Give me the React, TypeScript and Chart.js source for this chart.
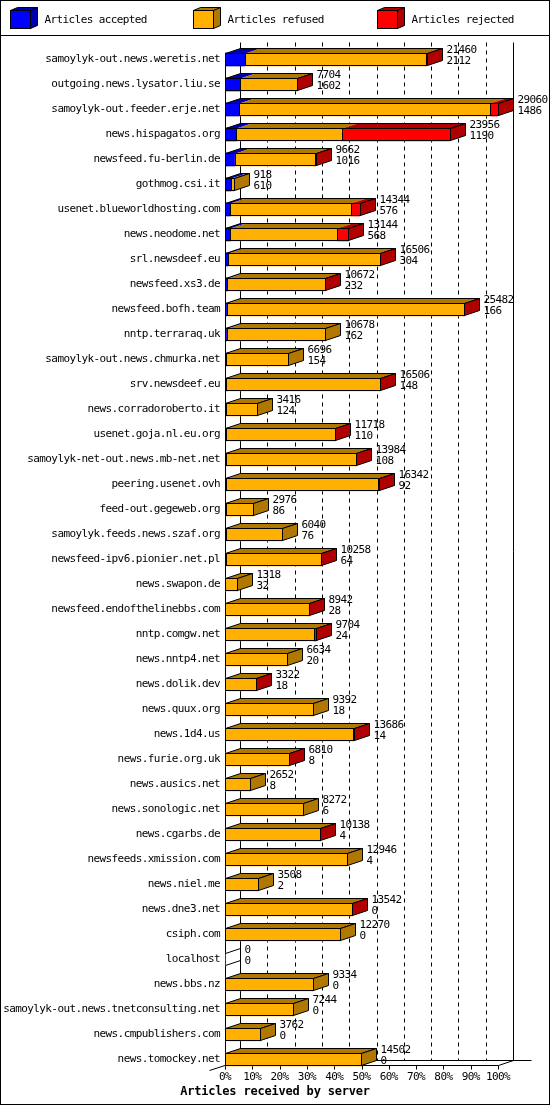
import { useEffect, useRef } from 'react'
import { Chart, registerables } from 'chart.js'

Chart.register(...registerables)

const servers = [
  'samoylyk-out.news.weretis.net', 'outgoing.news.lysator.liu.se', 'samoylyk-out.feeder.erje.net',
  'news.hispagatos.org', 'newsfeed.fu-berlin.de', 'gothmog.csi.it', 'usenet.blueworldhosting.com',
  'news.neodome.net', 'srl.newsdeef.eu', 'newsfeed.xs3.de', 'newsfeed.bofh.team', 'nntp.terraraq.uk',
  'samoylyk-out.news.chmurka.net', 'srv.newsdeef.eu', 'news.corradoroberto.it', 'usenet.goja.nl.eu.org',
  'samoylyk-net-out.news.mb-net.net', 'peering.usenet.ovh', 'feed-out.gegeweb.org',
  'samoylyk.feeds.news.szaf.org', 'newsfeed-ipv6.pionier.net.pl', 'news.swapon.de',
  'newsfeed.endofthelinebbs.com', 'nntp.comgw.net', 'news.nntp4.net', 'news.dolik.dev', 'news.quux.org',
  'news.1d4.us', 'news.furie.org.uk', 'news.ausics.net', 'news.sonologic.net', 'news.cgarbs.de',
  'newsfeeds.xmission.com', 'news.niel.me', 'news.dne3.net', 'csiph.com', 'localhost', 'news.bbs.nz',
  'samoylyk-out.news.tnetconsulting.net', 'news.cmpublishers.com', 'news.tomockey.net',
]

// top number printed next to each bar
const offered = [
  21460, 7704, 29060, 23956, 9662, 918, 14344, 13144, 16506, 10672, 25482, 10678, 6696, 16506, 3416,
  11718, 13984, 16342, 2976, 6040, 10258, 1318, 8942, 9704, 6634, 3322, 9392, 13686, 6810, 2652, 8272,
  10138, 12946, 3508, 13542, 12270, 0, 9334, 7244, 3762, 14502,
]

// bottom number printed next to each bar
const accepted = [
  2112, 1602, 1486, 1190, 1016, 610, 576, 568, 304, 232, 166, 162, 154, 148, 124, 110, 108, 92, 86, 76,
  64, 32, 28, 24, 20, 18, 18, 14, 8, 8, 6, 4, 4, 2, 0, 0, 0, 0, 0, 0, 0,
]

const refused = [
  19238, 6022, 26724, 11236, 8556, 308, 12818, 11406, 16162, 10400, 25256, 10516, 6542, 16318, 3292,
  11568, 13816, 16200, 2890, 5964, 10154, 1286, 8874, 9500, 6614, 3274, 9374, 13612, 6772, 2644, 8266,
  10104, 12942, 3506, 13512, 12270, 0, 9334, 7244, 3762, 14502,
]

const rejected = [
  110, 80, 850, 11530, 90, 0, 950, 1170, 40, 40, 60, 0, 0, 40, 0, 40, 60, 50, 0, 0, 40, 0, 40, 180, 0,
  30, 0, 60, 30, 0, 0, 30, 0, 0, 30, 0, 0, 0, 0, 0, 0,
]

const percentTicks = [0, 10, 20, 30, 40, 50, 60, 70, 80, 90, 100]
const legendLabels = ['Articles accepted', 'Articles refused', 'Articles rejected']
const axisTitle = 'Articles received by server'

const FACE = ['#0000ff', '#ffb000', '#ff0000']
const SHADE = ['#0000b0', '#b07800', '#b00000']
const DX = 15
const DY = 5
const MONO = '"DejaVu Sans Mono", "Liberation Mono", monospace'

export default function App() {
  const canvasRef = useRef<HTMLCanvasElement>(null)
  const chartRef = useRef<Chart | null>(null)

  useEffect(() => {
    document.body.style.margin = '0'
    if (!canvasRef.current) return
    chartRef.current?.destroy()

    const maxTotal = Math.max(...offered)
    const series = [accepted, refused, rejected]

    chartRef.current = new Chart(canvasRef.current, {
      type: 'bar',
      data: {
        labels: servers,
        datasets: series.map((data, i) => ({
          label: legendLabels[i],
          data,
          backgroundColor: FACE[i],
          borderWidth: 0,
          barThickness: 13,
          stack: 'all',
        })),
      },
      options: {
        indexAxis: 'y',
        responsive: false,
        animation: false,
        devicePixelRatio: 1,
        layout: { padding: { top: 47, right: 52, left: 0, bottom: 0 } },
        plugins: { legend: { display: false }, tooltip: { enabled: false } },
        scales: {
          x: {
            stacked: true,
            min: 0,
            max: maxTotal,
            afterBuildTicks(scale) {
              scale.ticks = percentTicks.map(p => ({ value: (p / 100) * maxTotal }))
            },
            afterFit(scale) { scale.height = 33 },
            ticks: {
              autoSkip: false,
              maxRotation: 0,
              padding: -1,
              color: '#000',
              font: { family: MONO, size: 11 },
              callback: (v) => `${Math.round((Number(v) / maxTotal) * 100)}%`,
            },
            grid: { display: false, drawTicks: false },
            border: { display: false },
          },
          y: {
            stacked: true,
            afterFit(scale) { scale.width = 225 },
            ticks: { padding: 5, color: '#000', autoSkip: false, font: { family: MONO, size: 11 } },
            grid: { display: false, drawTicks: false },
            border: { display: false },
          },
        },
      },
      plugins: [
        {
          id: 'narrowText',
          beforeDraw(chart) {
            // squeeze the mono font to the 6px cell of the original bitmap font
            ;(chart.ctx as any).letterSpacing = '-0.6px'
          },
        },
        {
          id: 'threeD',
          beforeDatasetsDraw(chart) {
            const { ctx, chartArea, scales } = chart
            const x = scales.x
            const front = (p: number) => Math.round(x.getPixelForValue((p / 100) * maxTotal)) + 0.5
            const floorFront = Math.round(chartArea.bottom - 7) + 0.5
            const floorBack = floorFront - DY
            const top = Math.round(chartArea.top - 5) + 0.5
            ctx.save()
            ctx.strokeStyle = '#000'
            ctx.lineWidth = 1
            // back wall grid
            percentTicks.forEach(p => {
              const bx = front(p) + DX
              ctx.setLineDash(p === 0 || p === 100 ? [] : [4, 4])
              ctx.beginPath()
              ctx.moveTo(bx, top)
              ctx.lineTo(bx, floorBack)
              ctx.stroke()
            })
            ctx.setLineDash([])
            // front left axis
            ctx.beginPath()
            ctx.moveTo(front(0), Math.round(chartArea.top + 6) + 0.5)
            ctx.lineTo(front(0), floorFront)
            ctx.stroke()
            // floor
            ctx.beginPath()
            ctx.moveTo(front(0) - DX - 1, floorFront + DY)
            ctx.lineTo(front(0) + DX, floorBack)
            ctx.lineTo(front(100) + DX + 18, floorBack)
            ctx.moveTo(front(0), floorFront)
            ctx.lineTo(front(100), floorFront)
            ctx.lineTo(front(100) + DX, floorBack)
            ctx.stroke()
            percentTicks.forEach(p => {
              ctx.beginPath()
              ctx.moveTo(front(p), floorFront)
              ctx.lineTo(front(p), floorFront + 4)
              ctx.stroke()
            })
            ctx.restore()
          },
          afterDatasetsDraw(chart) {
            const { ctx } = chart
            const metas = series.map((_, i) => chart.getDatasetMeta(i))
            ctx.save()
            ctx.strokeStyle = '#000'
            ctx.lineWidth = 1
            ctx.font = `11px ${MONO}`
            ctx.fillStyle = '#000'
            servers.forEach((_, row) => {
              const els = metas.map(m => (m.data[row] as any).getProps(['x', 'y', 'base', 'height'], true))
              const cy = els[0].y
              const T = Math.round(cy - els[0].height / 2) + 0.5
              const B = T + Math.round(els[0].height) - 1
              const L = Math.round(els[0].base) + 0.5
              const segs = els
                .map((e: any, i: number) => ({ i, l: Math.round(e.base) + 0.5, r: Math.round(e.x) + 0.5, v: series[i][row] }))
                .filter(s => s.v > 0)
              let R = L
              if (!segs.length) {
                ctx.beginPath()
                ctx.moveTo(L, T); ctx.lineTo(L + DX, T - DY)
                ctx.moveTo(L, B); ctx.lineTo(L + DX, B - DY)
                ctx.stroke()
              } else {
                const last = segs[segs.length - 1]
                R = last.r
                segs.forEach(s => {
                  ctx.fillStyle = SHADE[s.i]
                  ctx.beginPath()
                  ctx.moveTo(s.l, T); ctx.lineTo(s.l + DX, T - DY)
                  ctx.lineTo(s.r + DX, T - DY); ctx.lineTo(s.r, T)
                  ctx.closePath()
                  ctx.fill()
                })
                ctx.beginPath()
                ctx.moveTo(L, T); ctx.lineTo(L + DX, T - DY)
                ctx.lineTo(R + DX, T - DY); ctx.lineTo(R, T)
                ctx.closePath()
                ctx.stroke()
                ctx.fillStyle = SHADE[last.i]
                ctx.beginPath()
                ctx.moveTo(R, T); ctx.lineTo(R + DX, T - DY)
                ctx.lineTo(R + DX, B - DY); ctx.lineTo(R, B)
                ctx.closePath()
                ctx.fill()
                ctx.stroke()
                segs.forEach(s => ctx.strokeRect(s.l, T, s.r - s.l, B - T))
              }
              ctx.fillStyle = '#000'
              ctx.textAlign = 'left'
              ctx.textBaseline = 'middle'
              ctx.fillText(String(offered[row]), R + DX + 4, cy - 9)
              ctx.fillText(String(accepted[row]), R + DX + 4, cy + 2)
            })
            ctx.restore()
          },
          afterDraw(chart) {
            const { ctx, width, height } = chart
            ctx.save()
            ctx.strokeStyle = '#000'
            ctx.lineWidth = 1
            // legend
            ctx.font = `11px ${MONO}`
            ctx.textBaseline = 'middle'
            ctx.textAlign = 'left'
            legendLabels.forEach((label, i) => {
              const bx = Math.round(10 + (i * width) / 3) + 0.5
              const by = 10.5
              const w = 20, h = 18, dx = 7, dy = 3
              ctx.fillStyle = SHADE[i]
              ctx.beginPath()
              ctx.moveTo(bx, by); ctx.lineTo(bx + dx, by - dy); ctx.lineTo(bx + w + dx, by - dy)
              ctx.lineTo(bx + w + dx, by + h - dy); ctx.lineTo(bx + w, by + h); ctx.lineTo(bx + w, by)
              ctx.closePath()
              ctx.fill(); ctx.stroke()
              ctx.beginPath()
              ctx.moveTo(bx + w, by); ctx.lineTo(bx + w + dx, by - dy)
              ctx.stroke()
              ctx.fillStyle = FACE[i]
              ctx.fillRect(bx, by, w, h)
              ctx.strokeRect(bx, by, w, h)
              ctx.fillStyle = '#000'
              ctx.fillText(label, bx + 34, 20)
            })
            ctx.beginPath()
            ctx.moveTo(0, 35.5); ctx.lineTo(width, 35.5)
            ctx.stroke()
            // axis title
            ;(ctx as any).letterSpacing = '-0.2px'
            ctx.font = `bold 12px ${MONO}`
            ctx.textAlign = 'center'
            ctx.fillText(axisTitle, width / 2, height - 13)
            // frame
            ctx.strokeRect(0.5, 0.5, width - 1, height - 1)
            ctx.restore()
          },
        },
      ],
    })

    return () => {
      chartRef.current?.destroy()
      chartRef.current = null
    }
  }, [])

  return (
    <div style={{ width: 550, height: 1105, background: '#fff' }}>
      <canvas ref={canvasRef} width={550} height={1105} style={{ display: 'block' }} />
    </div>
  )
}
